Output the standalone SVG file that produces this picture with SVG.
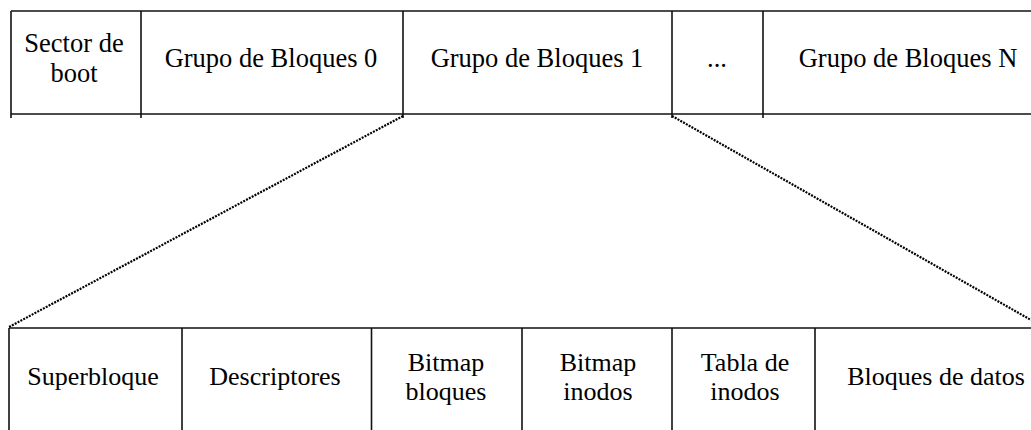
<svg xmlns="http://www.w3.org/2000/svg" width="1031" height="430" viewBox="0 0 1031 430">
<style>
.ln{stroke:#111;stroke-width:1.6;fill:none}
.dash{stroke:#000;stroke-width:2.2;stroke-dasharray:2 1.2;fill:none}
.t{font-family:'Liberation Serif','Times New Roman',serif;font-size:26px;fill:#000;text-anchor:middle}
.tt{font-size:26.5px}
</style>
<rect width="1031" height="430" fill="#fff"/>
<g id="top-row">
<line class="ln" x1="11" y1="11" x2="1031" y2="11"/>
<line class="ln" x1="11" y1="114" x2="1031" y2="114"/>
<g id="sector-boot"><line class="ln" x1="11" y1="11" x2="11" y2="118"/><text class="t tt" x="74" y="52">Sector de</text><text class="t tt" x="74" y="82">boot</text></g>
<g id="grupo0"><line class="ln" x1="141" y1="11" x2="141" y2="118"/><text class="t tt" x="271" y="67">Grupo de Bloques 0</text></g>
<g id="grupo1"><line class="ln" x1="403" y1="11" x2="403" y2="118"/><text class="t tt" x="537" y="67">Grupo de Bloques 1</text></g>
<g id="dots"><line class="ln" x1="672" y1="11" x2="672" y2="118"/><text class="t tt" x="717" y="67">...</text></g>
<g id="grupoN"><line class="ln" x1="763" y1="11" x2="763" y2="118"/><text class="t tt" x="908" y="67">Grupo de Bloques N</text></g>
</g>
<g id="connectors">
<line class="dash" x1="403" y1="116" x2="9" y2="327"/>
<line class="dash" x1="672" y1="116" x2="1031" y2="320"/>
</g>
<g id="bottom-row">
<line class="ln" x1="9" y1="328" x2="1031" y2="328"/>
<g id="superbloque"><line class="ln" x1="9" y1="328" x2="9" y2="430"/><text class="t" x="93" y="385">Superbloque</text></g>
<g id="descriptores"><line class="ln" x1="182" y1="328" x2="182" y2="430"/><text class="t" x="275" y="385">Descriptores</text></g>
<g id="bitmap-bloques"><line class="ln" x1="371.5" y1="328" x2="371.5" y2="430"/><text class="t" x="446" y="371">Bitmap</text><text class="t" x="446" y="400">bloques</text></g>
<g id="bitmap-inodos"><line class="ln" x1="522" y1="328" x2="522" y2="430"/><text class="t" x="598" y="371">Bitmap</text><text class="t" x="598" y="400">inodos</text></g>
<g id="tabla-inodos"><line class="ln" x1="672" y1="328" x2="672" y2="430"/><text class="t" x="745" y="371">Tabla de</text><text class="t" x="745" y="400">inodos</text></g>
<g id="bloques-datos"><line class="ln" x1="815" y1="328" x2="815" y2="430"/><text class="t" x="936" y="385">Bloques de datos</text></g>
</g>
</svg>
